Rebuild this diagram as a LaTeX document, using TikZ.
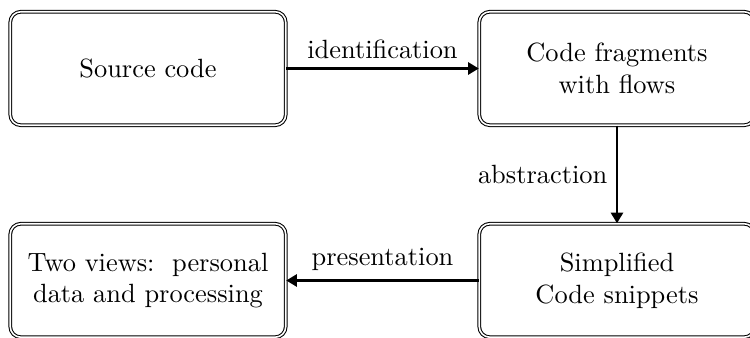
\documentclass[tikz,border=0pt]{standalone}
\usetikzlibrary{arrows.meta}
\begin{document}
\begin{tikzpicture}[x=0.379pt,y=-0.379pt,
  stagebox/.style={draw,double,double distance=0.6pt,rounded corners=4pt,
    minimum width=104.4pt,minimum height=43pt,align=center,inner sep=2pt},
  flowarrow/.style={thick,-{Triangle[length=4pt,width=4.6pt]}},
  lbl/.style={inner sep=3.3pt}]
\useasboundingbox (0,0) rectangle (750,338);
\node[stagebox] (src) at (148,68.5) {Source code};
\node[stagebox] (frag) at (617,68.5) {Code fragments\\with flows};
\node[stagebox] (simp) at (617,280.5) {Simplified\\Code snippets};
\node[stagebox] (views) at (148,280.5) {Two views:\ \ personal\\data and processing};
\draw[flowarrow] (src) -- node[lbl,above] {identification} (frag);
\draw[flowarrow] (frag) -- node[lbl,left] {abstraction} (simp);
\draw[flowarrow] (simp) -- node[lbl,above] {presentation} (views);
\end{tikzpicture}
\end{document}
